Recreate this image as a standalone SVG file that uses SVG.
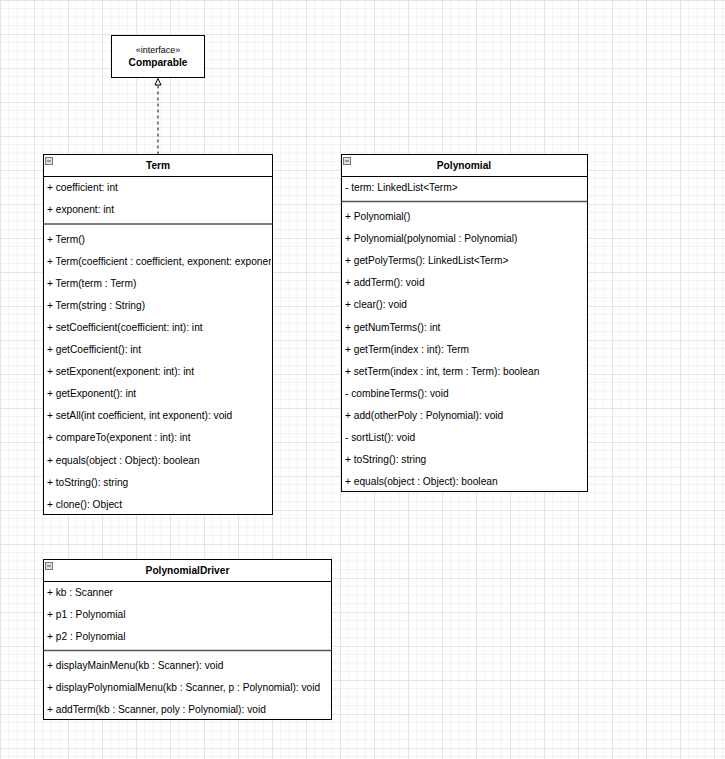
<svg xmlns="http://www.w3.org/2000/svg" width="725" height="759" viewBox="0 0 725 759">
  <defs>
    <pattern id="grid" width="34" height="34" patternUnits="userSpaceOnUse">
      <path d="M8.5 0V34M17 0V34M25.5 0V34M0 8.5H34M0 17H34M0 25.5H34" stroke="#f3f3f3" stroke-width="1" fill="none"/>
      <path d="M0.5 0V34M0 0.5H34" stroke="#e4e4e4" stroke-width="1" fill="none"/>
    </pattern>
    <clipPath id="termClip"><rect x="43" y="154" width="228" height="361"/></clipPath>
    <g id="collapse">
      <rect x="0.5" y="0.5" width="7" height="7" fill="#e0e0e0" stroke="#777" stroke-width="1"/>
      <path d="M2 4H6" stroke="#555" stroke-width="1"/>
    </g>
  </defs>
  <style>
    .box { fill: #fff; stroke: #000; stroke-width: 1; }
    .sep { stroke: #000; stroke-width: 1; }
    .div { stroke: #555; stroke-width: 1.5; }
    .head { fill: #fff; stroke: #000; stroke-width: 1; }
    text { font-family: "Liberation Sans", Arial, Helvetica, sans-serif; font-size: 10.2px; fill: #000; }
    .title { font-weight: bold; text-anchor: middle; }
    .stereo { text-anchor: middle; font-size: 9px; }
  </style>

  <rect width="725" height="759" fill="#fff"/>
  <rect width="725" height="759" fill="url(#grid)"/>

  <g id="connectors">
    <!-- realization: Term implements Comparable -->
    <path d="M158 154.5 V85" fill="none" stroke="#000" stroke-width="1" stroke-dasharray="3 3"/>
    <path class="head" d="M158 78.5 L161 85 L155 85 Z"/>
  </g>

  <g id="comparable">
    <rect class="box" x="111.5" y="35.5" width="93" height="42"/>
    <text class="stereo" x="158" y="53">«interface»</text>
    <text class="title" x="158" y="65.5">Comparable</text>
  </g>

  <g id="term">
    <rect class="box" x="43.5" y="154.5" width="229" height="360"/>
    <use href="#collapse" x="45" y="157"/>
    <text class="title" x="158" y="168.5">Term</text>
    <line class="sep" x1="43.5" y1="176.5" x2="272.5" y2="176.5"/>
    <text x="47" y="190.8">+ coefficient: int</text>
    <text x="47" y="212.9">+ exponent: int</text>
    <line class="div" x1="43.5" y1="224" x2="272.5" y2="224"/>
    <g clip-path="url(#termClip)">
      <text x="47" y="242.5">+ Term()</text>
      <text x="47" y="264.6">+ Term(coefficient : coefficient, exponent: exponent)</text>
      <text x="47" y="286.7">+ Term(term : Term)</text>
      <text x="47" y="308.8">+ Term(string : String)</text>
      <text x="47" y="330.9">+ setCoefficient(coefficient: int): int</text>
      <text x="47" y="353">+ getCoefficient(): int</text>
      <text x="47" y="375.1">+ setExponent(exponent: int): int</text>
      <text x="47" y="397.2">+ getExponent(): int</text>
      <text x="47" y="419.3">+ setAll(int coefficient, int exponent): void</text>
      <text x="47" y="441.4">+ compareTo(exponent : int): int</text>
      <text x="47" y="463.5">+ equals(object : Object): boolean</text>
      <text x="47" y="485.6">+ toString(): string</text>
      <text x="47" y="507.7">+ clone(): Object</text>
    </g>
  </g>

  <g id="polynomial">
    <rect class="box" x="341.5" y="154.5" width="246" height="337"/>
    <use href="#collapse" x="343" y="157"/>
    <text class="title" x="464" y="168.5">Polynomial</text>
    <line class="sep" x1="341.5" y1="176.5" x2="587.5" y2="176.5"/>
    <text x="345" y="190.8">- term: LinkedList&lt;Term&gt;</text>
    <line class="div" x1="341.5" y1="201.5" x2="587.5" y2="201.5"/>
    <text x="345" y="220">+ Polynomial()</text>
    <text x="345" y="242.1">+ Polynomial(polynomial : Polynomial)</text>
    <text x="345" y="264.2">+ getPolyTerms(): LinkedList&lt;Term&gt;</text>
    <text x="345" y="286.3">+ addTerm(): void</text>
    <text x="345" y="308.4">+ clear(): void</text>
    <text x="345" y="330.5">+ getNumTerms(): int</text>
    <text x="345" y="352.6">+ getTerm(index : int): Term</text>
    <text x="345" y="374.7">+ setTerm(index : int, term : Term): boolean</text>
    <text x="345" y="396.8">- combineTerms(): void</text>
    <text x="345" y="418.9">+ add(otherPoly : Polynomial): void</text>
    <text x="345" y="441">- sortList(): void</text>
    <text x="345" y="463.1">+ toString(): string</text>
    <text x="345" y="485.2">+ equals(object : Object): boolean</text>
  </g>

  <g id="polynomialDriver">
    <rect class="box" x="43.5" y="559.5" width="288" height="160"/>
    <use href="#collapse" x="45" y="562"/>
    <text class="title" x="187.5" y="573.5">PolynomialDriver</text>
    <line class="sep" x1="43.5" y1="581.5" x2="331.5" y2="581.5"/>
    <text x="47" y="595.8">+ kb : Scanner</text>
    <text x="47" y="617.9">+ p1 : Polynomial</text>
    <text x="47" y="640">+ p2 : Polynomial</text>
    <line class="div" x1="43.5" y1="650.5" x2="331.5" y2="650.5"/>
    <text x="47" y="669">+ displayMainMenu(kb : Scanner): void</text>
    <text x="47" y="691.1">+ displayPolynomialMenu(kb : Scanner, p : Polynomial): void</text>
    <text x="47" y="713.2">+ addTerm(kb : Scanner, poly : Polynomial): void</text>
  </g>
</svg>
